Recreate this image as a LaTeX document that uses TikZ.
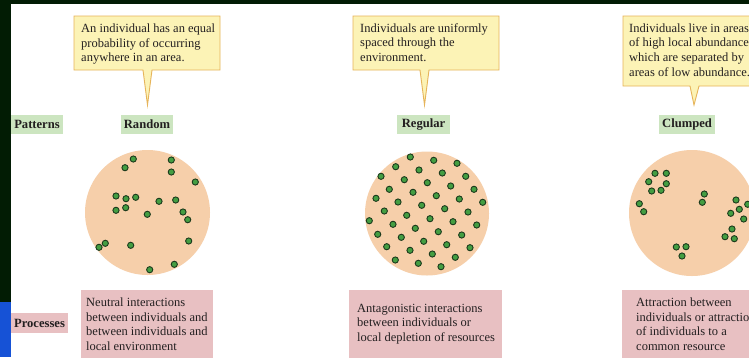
\documentclass[tikz,border=0pt]{standalone}
\usepackage{fontspec}
\setmainfont{Liberation Serif}
\definecolor{darkband}{HTML}{021C04}
\definecolor{slideblue}{HTML}{1652D6}
\definecolor{calloutfill}{HTML}{FCF3B6}
\definecolor{calloutline}{HTML}{E6B45A}
\definecolor{greenlab}{HTML}{CCE5C0}
\definecolor{pinkbox}{HTML}{E8C0C2}
\definecolor{peach}{HTML}{F6CFAA}
\definecolor{dotfill}{HTML}{449E42}
\definecolor{dotline}{HTML}{1C3A1C}
\definecolor{textcol}{HTML}{231F20}
\tikzset{
  callout/.style={fill=calloutfill, draw=calloutline, line width=0.9pt, line join=miter},
  glabel/.style={fill=greenlab, inner sep=0pt, font=\fontsize{12.6}{14}\selectfont\bfseries, text=textcol},
  plabel/.style={fill=pinkbox, inner sep=0pt, font=\fontsize{12.6}{14}\selectfont\bfseries, text=textcol},
  pbox/.style={fill=pinkbox, inner sep=0pt, anchor=north west},
  btext/.style={inner sep=0pt, anchor=north west, align=left, text=textcol, font=\fontsize{12.5}{14.7}\selectfont},
  dot/.style={fill=dotfill, draw=dotline, line width=0.9pt},
  area/.style={fill=peach}
}
\begin{document}
\begin{tikzpicture}[x=1pt,y=-1pt]
\useasboundingbox (0,0) rectangle (749,357);
\clip (0,0) rectangle (749,357);
\fill[white] (0,0) rectangle (749,357);
\fill[darkband] (0,0) rectangle (749,4);
\fill[darkband] (0,0) rectangle (11,302);
\fill[slideblue] (0,302) rectangle (11,357);

% callouts
\filldraw[callout] (74,16) -- (220,16) -- (220,70) -- (152,70) -- (147.5,105) -- (143,70) -- (74,70) -- cycle;
\node[btext] (c1) at (81,23.5) {An individual has an equal\\probability of occurring\\anywhere in an area.};
\filldraw[callout] (353,16) -- (499,16) -- (499,70) -- (429,70) -- (424.5,105) -- (420,70) -- (353,70) -- cycle;
\node[btext] (c2) at (360,23.2) {Individuals are uniformly\\spaced through the\\environment.};
\filldraw[callout] (623,16) -- (765,16) -- (765,86) -- (699,86) -- (694,105) -- (690,86) -- (623,86) -- cycle;
\node[btext] (c3) at (629,23.2) {Individuals live in areas\\of high local abundance\\which are separated by\\areas of low abundance.};

% labels
\node[glabel, minimum width=52pt, minimum height=19pt] (patterns) at (37,124.5) {Patterns};
\node[glabel, minimum width=52pt, minimum height=19pt] (random) at (147,124.5) {Random};
\node[glabel, minimum width=53pt, minimum height=19pt] (regular) at (423.5,124.5) {Regular};
\node[glabel, minimum width=56pt, minimum height=19pt] (clumped) at (687,124.5) {Clumped};
\node[plabel, minimum width=57pt, minimum height=20pt] (processes) at (39.5,323) {Processes};

% areas
\fill[area] (147.5,212.5) circle[radius=62.5pt];
\fill[area] (427,213.5) circle[radius=62pt];
\fill[area] (692,213) circle[radius=63pt];

% random dots
\foreach \x/\y in {133.3/159, 125/167.7, 171.3/160, 171.3/172, 195.3/182, 116/196, 126/198.7, 135.7/197.3, 159/201.3, 175.7/200, 116/210.3, 125.7/207.7, 147.3/214.3, 183/212, 187.7/219.7, 188.7/241, 105.3/243.3, 99/247.3, 130.7/245.3, 174.3/264.3, 149.7/269.7}
  \draw[dot] (\x,\y) circle[radius=3.1pt];

% regular dots
\foreach \x/\y in {410.3/157, 433.7/160.3, 457/163.3, 395.7/166.7, 419/170, 442.3/173, 465.7/176.3, 381/176.3, 404.3/179.7, 427.3/182.7, 450.7/186, 474/189.3, 389.3/189.3, 413/192.3, 436.3/195.7, 459.3/199, 482.7/202.3, 376/198.3, 398/202, 421.7/205.3, 444.7/208.7, 468/212, 384.3/211, 406.7/215.3, 430/218.7, 453/221.7, 476.7/225, 369.3/220.7, 393/224.3, 415.3/228.3, 438.3/231.7, 461.7/235, 377.7/234.3, 401.3/237.3, 423.7/241.3, 446.7/244.7, 470/247.7, 386.7/246.7, 410/250.3, 432.3/254, 455.3/257.3, 395.3/260, 418.3/263.3, 441/266.7}
  \draw[dot] (\x,\y) circle[radius=3.1pt];

% clumped dots
\foreach \x/\y in {655/173.3, 666.3/173.3, 648.7/181.7, 666.3/183.7, 651.7/191, 661/190.3, 639.3/203.7, 643.7/211.7, 704.3/194, 702.3/202.3, 736/200, 747.7/204.3, 739.3/209.3, 730.7/213.3, 743.7/219, 732/229, 725/236.7, 734.3/238.7, 676.3/247, 686/246.7, 682/256}
  \draw[dot] (\x,\y) circle[radius=3.1pt];

% process boxes
\node[pbox, minimum width=132pt, minimum height=75pt] (p1) at (81,290) {};
\node[btext] (p1text) at (86,297.5) {Neutral interactions\\between individuals and\\between individuals and\\local environment};
\node[pbox, minimum width=153pt, minimum height=75pt] (p2) at (349,290) {};
\node[btext] (p2text) at (357,303.7) {Antagonistic interactions\\between individuals or\\local depletion of resources};
\node[pbox, minimum width=140pt, minimum height=75pt] (p3) at (622,290) {};
\node[btext] (p3text) at (636,297.5) {Attraction between\\individuals or attraction\\of individuals to a\\common resource};
\end{tikzpicture}
\end{document}
